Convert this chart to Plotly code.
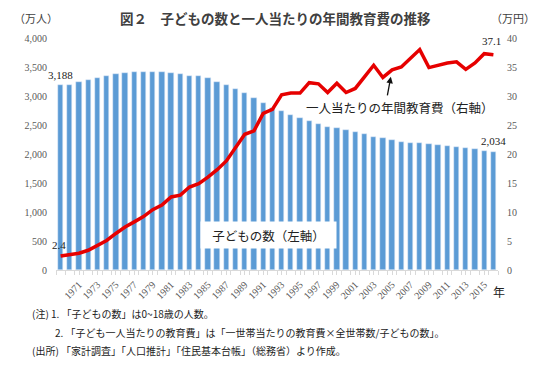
import plotly.graph_objects as go

years = [1969, 1970, 1971, 1972, 1973, 1974, 1975, 1976, 1977, 1978,
         1979, 1980, 1981, 1982, 1983, 1984, 1985, 1986, 1987, 1988,
         1989, 1990, 1991, 1992, 1993, 1994, 1995, 1996, 1997, 1998,
         1999, 2000, 2001, 2002, 2003, 2004, 2005, 2006, 2007, 2008,
         2009, 2010, 2011, 2012, 2013, 2014, 2015, 2016]

children = [3188, 3190, 3247, 3282, 3310, 3345, 3374, 3391, 3408, 3408,
            3420, 3408, 3397, 3374, 3345, 3345, 3303, 3250, 3190, 3126,
            3057, 2974, 2887, 2790, 2735, 2672, 2615, 2563, 2517, 2471,
            2443, 2408, 2374, 2339, 2299, 2270, 2241, 2212, 2195, 2184,
            2166, 2149, 2132, 2121, 2098, 2080, 2057, 2034]

cost = [2.4, 2.6, 2.9, 3.4, 4.2, 5.1, 6.3, 7.4, 8.3, 9.2,
        10.4, 11.2, 12.6, 12.9, 14.3, 14.9, 16.0, 17.3, 18.8, 21.0,
        23.4, 24.0, 27.0, 27.7, 30.2, 30.5, 30.5, 32.3, 32.1, 30.6,
        32.2, 30.6, 31.3, 33.3, 35.3, 33.2, 34.5, 35.0, 36.5, 38.0,
        34.9, 35.3, 35.7, 35.9, 34.6, 35.7, 37.3, 37.1]

tick_years = [1971, 1973, 1975, 1977, 1979, 1981, 1983, 1985, 1987, 1989,
              1991, 1993, 1995, 1997, 1999, 2001, 2003, 2005, 2007, 2009,
              2011, 2013, 2015]

left_ticks = [0, 500, 1000, 1500, 2000, 2500, 3000, 3500, 4000]
right_ticks = [0, 5, 10, 15, 20, 25, 30, 35, 40]

title_text = "図２　子どもの数と一人当たりの年間教育費の推移"
note1 = "(注) 1. 「子どもの数」は0~18歳の人数。"
note2 = "2. 「子ども一人当たりの教育費」は「一世帯当たりの教育費×全世帯数/子どもの数」。"
note3 = "(出所) 「家計調査」「人口推計」「住民基本台帳」（総務省）より作成。"

W, H = 540, 374
L, R, T, B = 56, 42, 38, 104
PW, PH = W - L - R, H - T - B


def px(x):
    return (x - L) / PW


def py(y):
    return (H - B - y) / PH


JP = "Noto Sans CJK JP"
SERIF = "Liberation Serif"

fig = go.Figure()
fig.add_trace(go.Bar(x=years, y=children, marker_color="#5B9BD5",
                     width=0.58, name="子どもの数", yaxis="y"))
fig.add_trace(go.Scatter(x=years, y=cost, mode="lines",
                         line=dict(color="#E60000", width=3.5),
                         name="一人当たりの年間教育費", yaxis="y2"))


def label(x, y, text, size, color="#222", xanchor="center", bold=False,
          **kw):
    if bold:
        text = "<b>" + text + "</b>"
    return dict(x=px(x), y=py(y), xref="paper", yref="paper",
                xanchor=xanchor, yanchor="middle", text=text,
                showarrow=False, font=dict(family=JP, size=size, color=color),
                **kw)


ann = []
# value labels
ann.append(dict(x=years[0], y=children[0], xref="x", yref="y",
                xanchor="center", yanchor="middle",
                text=f"{children[0]:,}", showarrow=False, yshift=10,
                font=dict(family=SERIF, size=11, color="#222")))
ann.append(dict(x=years[-1], y=children[-1], xref="x", yref="y",
                xanchor="center", yanchor="middle",
                text=f"{children[-1]:,}", showarrow=False, yshift=11,
                font=dict(family=SERIF, size=11, color="#222")))
ann.append(dict(x=years[-1], y=cost[-1], xref="x", yref="y2",
                xanchor="center", yanchor="middle",
                text=f"{cost[-1]}", showarrow=False, yshift=14, xshift=-2,
                font=dict(family=SERIF, size=11, color="#222")))
ann.append(dict(x=years[0], y=cost[0], xref="x", yref="y2",
                xanchor="center", yanchor="middle",
                text=f"{cost[0]}", showarrow=False, yshift=11, xshift=-2,
                font=dict(family=SERIF, size=11, color="#222")))
# arrow
ann.append(dict(x=2005, y=cost[years.index(2005)], xref="x", yref="y2",
                text="", showarrow=True, ax=-5, ay=27, standoff=7,
                arrowhead=2, arrowsize=1, arrowwidth=1.3, arrowcolor="#111"))
ann.append(label(400, 107, "一人当たりの年間教育費（右軸）", 12.5))
ann.append(label(268, 235, "子どもの数（左軸）", 12.5,
                 bgcolor="white", width=133, height=24))
# title and units
ann.append(label(275, 18, title_text, 13.5, color="#404040", bold=True))
ann.append(label(36, 18, "（万人）", 11, color="#404040"))
ann.append(label(513, 18, "（万円）", 11, color="#404040"))
ann.append(label(499, 291, "年", 12))
# notes
ann.append(label(30, 313, note1, 10, xanchor="left"))
ann.append(label(53, 332, note2, 10, xanchor="left"))
ann.append(label(30, 350, note3, 10, xanchor="left"))

fig.update_layout(
    width=W, height=H,
    margin=dict(l=L, r=R, t=T, b=B, autoexpand=False),
    paper_bgcolor="white", plot_bgcolor="white",
    showlegend=False,
    bargap=0,
    xaxis=dict(range=[years[0] - 0.5, years[-1] + 0.5], tickmode="array",
               tickvals=tick_years, ticktext=[str(y) for y in tick_years],
               tickangle=-45, showgrid=False, zeroline=False,
               showline=True, linecolor="#D9D9D9", linewidth=1,
               ticks="outside", ticklen=4, tickcolor="#D9D9D9",
               minor=dict(ticks="outside", ticklen=4, tickcolor="#D9D9D9",
                          dtick=1, tick0=years[0] + 0.5),
               tickfont=dict(family=SERIF, size=10, color="#595959")),
    yaxis=dict(range=[0, 4000], tickmode="array", tickvals=left_ticks,
               tickformat=",", showgrid=False, zeroline=False,
               showline=False, ticks="", ticklabelstandoff=8,
               tickfont=dict(family=SERIF, size=10, color="#595959")),
    yaxis2=dict(range=[0, 40], tickmode="array", tickvals=right_ticks,
                overlaying="y", side="right", showgrid=False,
                zeroline=False, showline=False, ticks="",
                ticklabelstandoff=8,
                tickfont=dict(family=SERIF, size=10, color="#595959")),
    annotations=ann,
)

fig.write_html("out.html", config={"displayModeBar": False},
               post_script="document.body.style.margin='0px';")
